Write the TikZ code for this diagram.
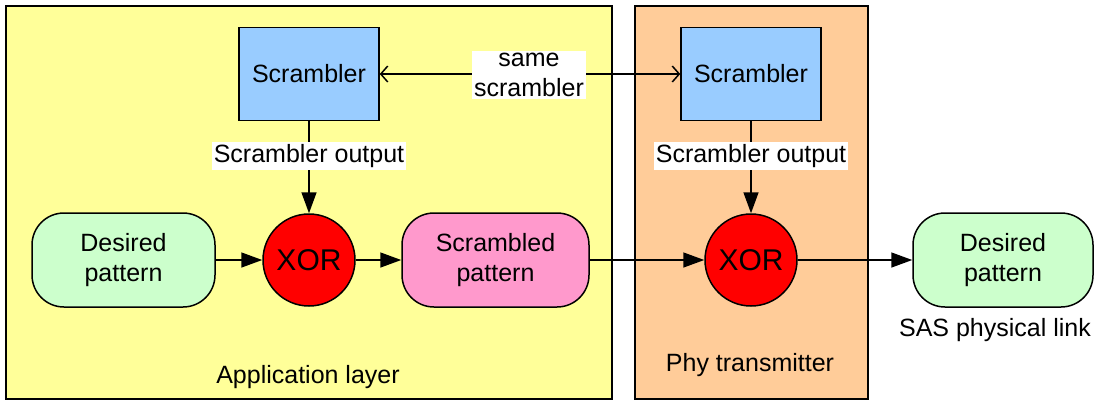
\documentclass[tikz,border=0pt]{standalone}
\usepackage{fontspec}
\setmainfont{Liberation Sans}
\usetikzlibrary{arrows.meta}
\definecolor{appyellow}{HTML}{FFFF99}
\definecolor{phyorange}{HTML}{FFCC99}
\definecolor{scrblue}{HTML}{99CCFF}
\definecolor{patgreen}{HTML}{CCFFCC}
\definecolor{patpink}{HTML}{FF99CC}
\tikzset{
 every node/.style={font=\fontsize{25}{30}\selectfont, align=center},
 layer/.style={draw, line width=1.8pt, anchor=north west, inner sep=0pt},
 scr/.style={draw, fill=scrblue, line width=1.5pt, minimum width=140pt, minimum height=93pt, inner sep=0pt},
 xorc/.style={circle, draw, fill=red, line width=1.5pt, minimum size=92pt, inner sep=0pt, font=\fontsize{30}{34}\selectfont},
 pat/.style={draw, rounded corners=32pt, line width=1.5pt, minimum width=183pt, minimum height=94pt, inner sep=0pt},
 lbl/.style={fill=white, inner xsep=2pt, inner ysep=2pt},
 flow/.style={line width=1.5pt, -{Triangle[length=21pt,width=15pt]}},
 both/.style={line width=1.5pt, {Straight Barb[length=7pt,width=16pt]}-{Straight Barb[length=7pt,width=16pt]}},
}
\begin{document}
\begin{tikzpicture}[x=1pt,y=-1pt]
\useasboundingbox (0,0) rectangle (1094,400);
\node[layer, fill=appyellow, minimum width=606pt, minimum height=393pt] (app) at (5,5) {};
\node[layer, fill=phyorange, minimum width=233pt, minimum height=393pt] (phy) at (634,5) {};
\node (applbl) at (308,377) {Application layer};
\node (phylbl) at (750,365) {Phy transmitter};
\node[scr] (s1) at (309,74) {Scrambler};
\node[scr] (s2) at (751,74) {Scrambler};
\node[xorc] (x1) at (309,260) {XOR};
\node[xorc] (x2) at (751,260) {XOR};
\node[pat, fill=patgreen] (d1) at (123.5,260) {Desired\\pattern};
\node[pat, fill=patpink, minimum width=187pt] (sp) at (495.5,260) {Scrambled\\pattern};
\node[pat, fill=patgreen, minimum width=180pt] (d2) at (1003,260) {Desired\\pattern};
\node (sas) at (995,330) {SAS physical link};
\draw[flow] (d1) -- (x1);
\draw[flow] (x1) -- (sp);
\draw[flow] (sp) -- (x2);
\draw[flow] (x2) -- (d2);
\draw[flow] (s1) -- (x1);
\draw[flow] (s2) -- (x2);
\draw[both] (s1) -- (s2);
\node[lbl] (so1) at (309,156) {Scrambler output};
\node[lbl] (so2) at (751,156) {Scrambler output};
\node[lbl] (same) at (529,75) {same\\scrambler};
\end{tikzpicture}
\end{document}
